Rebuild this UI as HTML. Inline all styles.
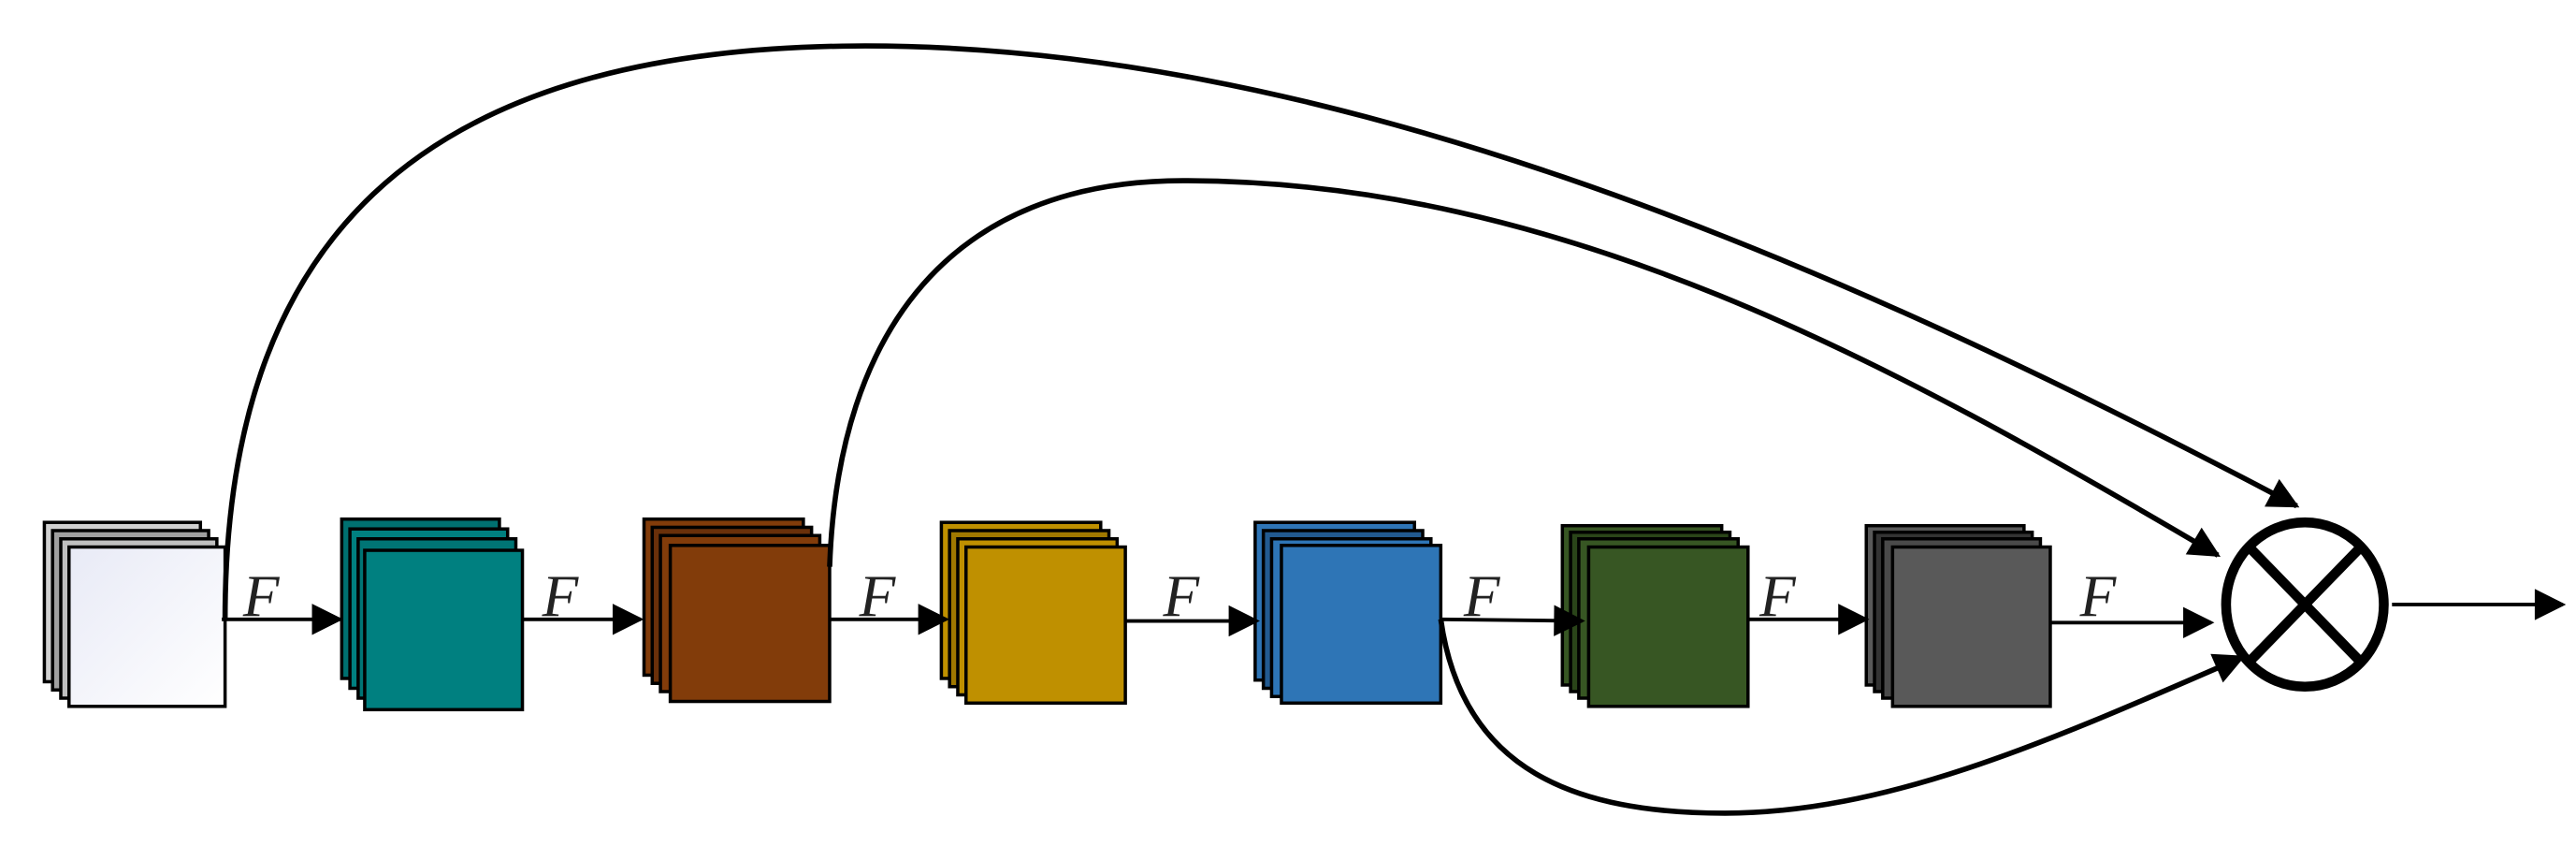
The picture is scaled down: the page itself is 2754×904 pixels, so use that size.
<!DOCTYPE html>
<html><head><meta charset="utf-8"><style>html,body{margin:0;padding:0;background:#fff}svg{display:block}</style></head>
<body>
<svg width="2754" height="904" viewBox="0 0 1568 515" preserveAspectRatio="none" xmlns="http://www.w3.org/2000/svg">
<defs>
<marker id="b" viewBox="0 0 10 10" refX="9" refY="5" markerWidth="26" markerHeight="19" markerUnits="userSpaceOnUse" orient="auto">
<path d="M0,0 L10,5 L0,10 z" fill="#000"/></marker>
<linearGradient id="g" x1="0" y1="0" x2="1" y2="1"><stop offset="0" stop-color="#e8eaf6"/><stop offset="1" stop-color="#fff"/></linearGradient>
</defs>
<g stroke="#000" stroke-width="2">
<rect x="27" y="318" width="95" height="97" fill="#d0d0d0"/>
<rect x="32" y="323" width="95" height="97" fill="#a0a0a0"/>
<rect x="37" y="328" width="95" height="97" fill="#c0c0c0"/>
<rect x="42" y="333" width="95" height="97" fill="url(#g)"/>
<rect x="208" y="316" width="96" height="97" fill="#007070"/>
<rect x="213" y="322" width="96" height="97" fill="#008080"/>
<rect x="218" y="328" width="96" height="97" fill="#007575"/>
<rect x="222" y="335" width="96" height="97" fill="#008080"/>
<rect x="392" y="316" width="97" height="95" fill="#823c0a"/>
<rect x="397" y="321" width="97" height="95" fill="#6a300a"/>
<rect x="402" y="326" width="97" height="95" fill="#823c0a"/>
<rect x="408" y="332" width="97" height="95" fill="#823c0a"/>
<rect x="573" y="318" width="97" height="95" fill="#bf9000"/>
<rect x="578" y="323" width="97" height="95" fill="#a07800"/>
<rect x="583" y="328" width="97" height="95" fill="#bf9000"/>
<rect x="588" y="333" width="97" height="95" fill="#bf9000"/>
<rect x="764" y="318" width="97" height="96" fill="#2e75b6"/>
<rect x="769" y="323" width="97" height="96" fill="#225a90"/>
<rect x="774" y="328" width="97" height="96" fill="#2e75b6"/>
<rect x="780" y="332" width="97" height="96" fill="#2e75b6"/>
<rect x="951" y="320" width="97" height="97" fill="#375623"/>
<rect x="956" y="324" width="97" height="97" fill="#2a4419"/>
<rect x="961" y="328" width="97" height="97" fill="#375623"/>
<rect x="967" y="333" width="97" height="97" fill="#375623"/>
<rect x="1136" y="320" width="96" height="97" fill="#595959"/>
<rect x="1141" y="324" width="96" height="97" fill="#333"/>
<rect x="1146" y="328" width="96" height="97" fill="#4a4a4a"/>
<rect x="1152" y="333" width="96" height="97" fill="#595959"/>
</g>
<g stroke="#000" stroke-width="2.2" fill="none">
<line x1="135" y1="377" x2="207" y2="377" marker-end="url(#b)"/>
<line x1="318" y1="377" x2="390" y2="377" marker-end="url(#b)"/>
<line x1="505" y1="377" x2="576" y2="377" marker-end="url(#b)"/>
<line x1="685" y1="378" x2="765" y2="378" marker-end="url(#b)"/>
<line x1="877" y1="377" x2="963" y2="378" marker-end="url(#b)"/>
<line x1="1064" y1="377" x2="1136" y2="377" marker-end="url(#b)"/>
<line x1="1248" y1="379" x2="1346" y2="379" marker-end="url(#b)"/>
<line x1="1456" y1="368" x2="1560" y2="368" marker-end="url(#b)"/>
</g>
<g stroke="#000" stroke-width="3.2" fill="none">
<path d="M137,377 C137,150 250,30 520,28 C800,26 1100,150 1398,308" marker-end="url(#b)"/>
<path d="M505,345 C510,200 580,110 720,110 C950,110 1150,220 1350,338" marker-end="url(#b)"/>
<path d="M877,377 C890,470 960,495 1050,495 C1150,495 1250,450 1365,400" marker-end="url(#b)"/>
</g>
<g stroke="#000" stroke-width="6" fill="#fff">
<ellipse cx="1403" cy="368" rx="48" ry="50"/>
<line x1="1369" y1="333" x2="1437" y2="403"/>
<line x1="1437" y1="333" x2="1369" y2="403"/>
</g>
<g font-family="Liberation Serif, serif" font-style="italic" font-size="36" fill="#222">
<text x="148" y="375">F</text>
<text x="330" y="375">F</text>
<text x="523" y="375">F</text>
<text x="708" y="375">F</text>
<text x="891" y="375">F</text>
<text x="1071" y="375">F</text>
<text x="1266" y="375">F</text>
</g>
</svg>
</body></html>
